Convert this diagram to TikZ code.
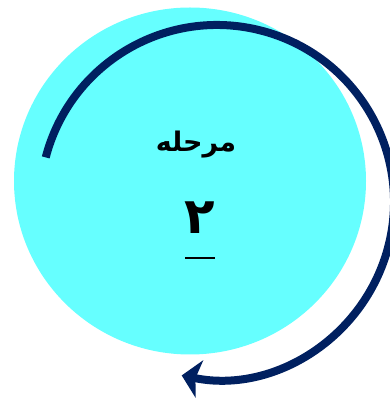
\documentclass[tikz,border=0pt]{standalone}
\usepackage{fontspec}
\newfontfamily\arabicfont[Script=Arabic]{DejaVu Sans}
\TeXXeTstate=1
\usetikzlibrary{arrows.meta}
\definecolor{stagecyan}{RGB}{102,255,255}
\definecolor{arrownavy}{RGB}{0,32,96}

\begin{document}
\begin{tikzpicture}[x=1pt, y=1pt,
    stagelabel/.style={font=\arabicfont\bfseries\fontsize{27}{31}\selectfont, inner sep=0pt},
    stagenumber/.style={font=\arabicfont\bfseries\fontsize{50}{56}\selectfont, inner sep=0pt}]
\useasboundingbox (0,0) rectangle (389,399);
\fill[stagecyan] (190,218) ellipse [x radius=176, y radius=173.5];
\draw[arrownavy, line width=8pt, -{Stealth[length=18pt, width=38pt, inset=4pt]}]
    (217,197) ++(165.4:177) arc[start angle=165.4, end angle=-101.5, radius=177];
\node[stagelabel] (title) at (196,254) {\beginR مرحله\endR};
\node[stagenumber] (number) at (200,181) {\beginR ۲\endR};
\draw[line width=2.5pt] (185,141) -- (215,141);
\end{tikzpicture}
\end{document}
